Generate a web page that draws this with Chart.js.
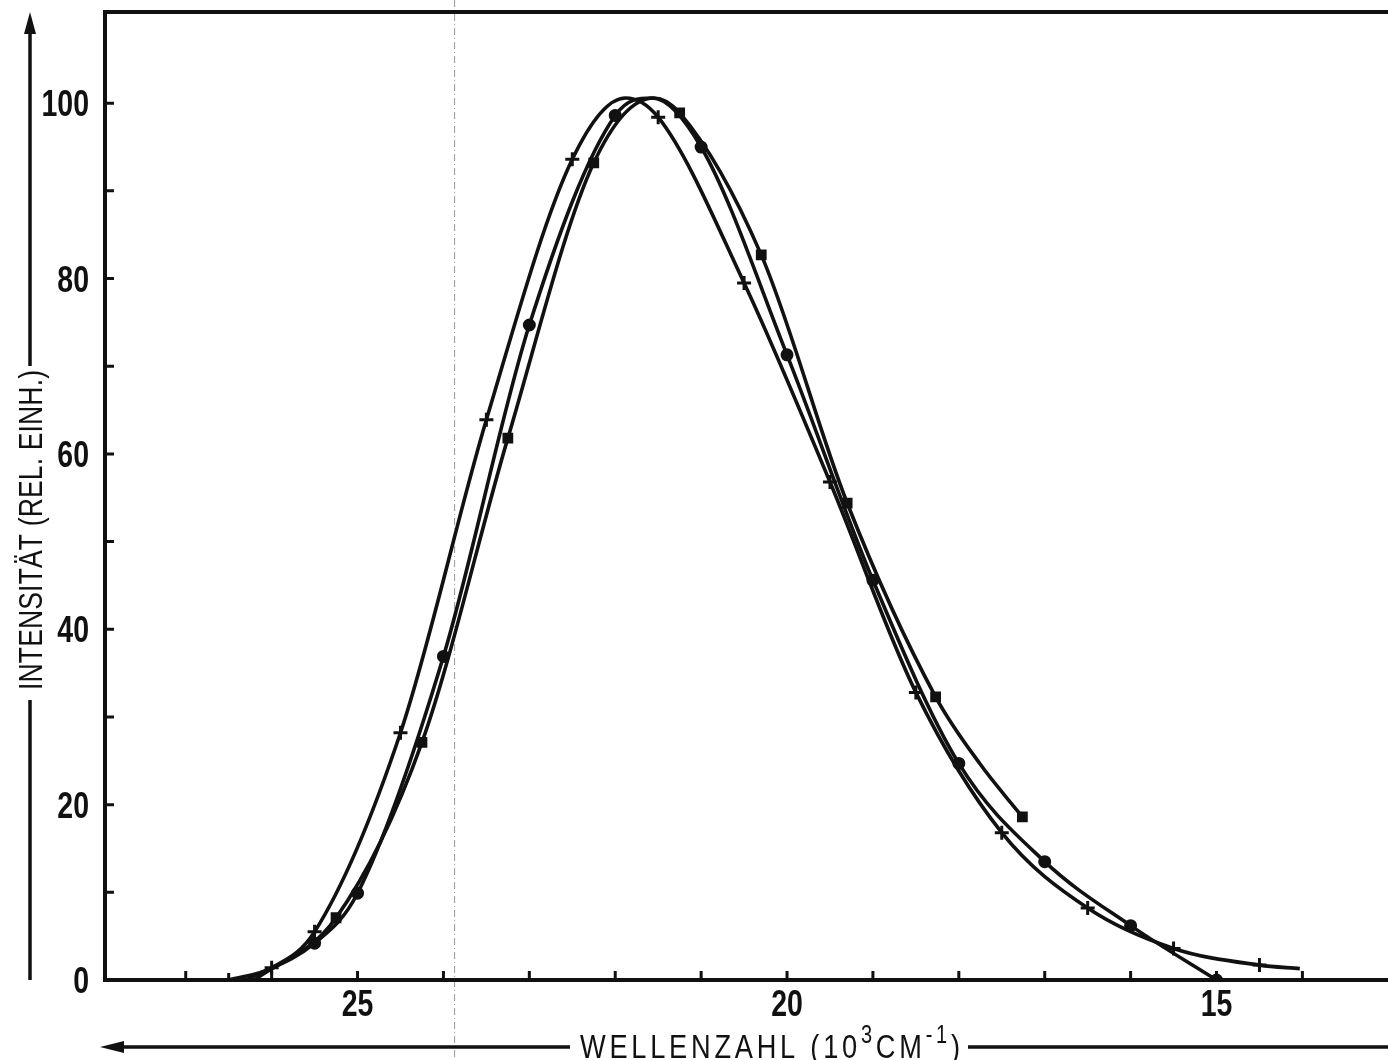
<!DOCTYPE html>
<html>
<head>
<meta charset="utf-8">
<script src="https://cdn.jsdelivr.net/npm/chart.js@4/dist/chart.umd.min.js"></script>
<style>
  html, body { margin: 0; background: #fff; }
  canvas { display: block; }
</style>
</head>
<body>
<canvas id="spectrum" width="1388" height="1060" style="width:1388px;height:1060px"></canvas>
<script>
// Values: x = Wellenzahl (10^3 cm^-1), y = Intensität (rel.)
// Series 1, "+" markers
const crossX = [26.5, 26.0, 25.5, 24.5, 23.5, 22.5, 21.5, 20.5, 19.5, 18.5, 17.5, 16.5, 15.5, 14.5];
const crossY = [0, 1.4, 5.5, 28.2, 63.9, 93.6, 98.4, 79.5, 56.8, 32.8, 16.8, 8.2, 3.6, 1.7];
// extra points on the drawn curve (no marker): peak and right end
const crossCurveX = [21.88, 14.03];
const crossCurveY = [100.6, 1.3];

// Series 2, filled circles
const circleX = [25.5, 25.0, 24.0, 23.0, 22.0, 21.0, 20.0, 19.0, 18.0, 17.0, 16.0, 15.0];
const circleY = [4.2, 9.9, 36.9, 74.7, 98.6, 95.0, 71.3, 45.6, 24.7, 13.5, 6.2, 0];
const circleCurveX = [26.3, 21.57];
const circleCurveY = [0, 100.6];

// Series 3, squares
const squareX = [25.25, 24.25, 23.25, 22.25, 21.25, 20.3, 19.3, 18.27, 17.26];
const squareY = [7.1, 27.1, 61.8, 93.2, 98.9, 82.7, 54.4, 32.3, 18.6];
const squareCurveX = [26.2, 21.55, 17.75];
const squareCurveY = [0, 100.6, 24.6];

// axis ticks
const xTickLabels = [25, 20, 15];
const xMinorTicks = [14, 15, 16, 17, 18, 19, 20, 21, 22, 23, 24, 25, 26, 27];
const yTickLabels = [0, 20, 40, 60, 80, 100];
const yMinorTicks = [10, 20, 30, 40, 50, 60, 70, 80, 90, 100];
const xRange = [13.12, 27.94];
const yRange = [0, 110.4];

const FONT = '"Liberation Sans", Arial, sans-serif';
const INK = "#111";

function points(xs, ys) {
  return xs.map((x, i) => ({ x: x, y: ys[i] }));
}

// curve = markers + the extra read-off points, sorted left to right (x is reversed)
function curve(xs, ys, ex, ey) {
  return points(xs, ys).concat(points(ex, ey)).sort((a, b) => b.x - a.x);
}

function lineSet(data) {
  return {
    type: "line",
    data: data,
    borderColor: INK,
    borderWidth: 3.6,
    pointRadius: 0,
    fill: false,
    cubicInterpolationMode: "monotone"
  };
}

function markerSet(data, style, radius) {
  return {
    type: "scatter",
    data: data,
    pointStyle: style,
    pointRadius: radius,
    pointBorderWidth: 3,
    pointBorderColor: INK,
    pointBackgroundColor: INK,
    showLine: false
  };
}

// condensed text, anchored by align at (x, y baseline)
function narrowText(ctx, text, x, y, font, squeeze, align) {
  ctx.save();
  ctx.font = font;
  const w = ctx.measureText(text).width * squeeze;
  let left = x;
  if (align === "right") left = x - w;
  if (align === "center") left = x - w / 2;
  ctx.translate(left, y);
  ctx.scale(squeeze, 1);
  ctx.textAlign = "left";
  ctx.textBaseline = "alphabetic";
  ctx.fillText(text, 0, 0);
  ctx.restore();
}

// text with letter spacing stretched to a given width
function fitText(ctx, parts, x, y, width, squeeze) {
  ctx.save();
  ctx.translate(x, y);
  ctx.scale(squeeze, 1);
  const target = width / squeeze;
  let natural = 0, count = 0;
  parts.forEach(p => {
    ctx.font = p.font;
    natural += ctx.measureText(p.text).width;
    count += p.text.length;
  });
  const gap = (target - natural) / (count - 1);
  let cx = 0;
  ctx.textBaseline = "alphabetic";
  parts.forEach(p => {
    ctx.font = p.font;
    for (const ch of p.text) {
      ctx.fillText(ch, cx, -(p.rise || 0));
      cx += ctx.measureText(ch).width + gap;
    }
  });
  ctx.restore();
}

const decorPlugin = {
  id: "decor",
  beforeDraw(chart) {
    const ctx = chart.ctx;
    ctx.save();
    ctx.fillStyle = "#fff";
    ctx.fillRect(0, 0, chart.width, chart.height);
    // faint dash-dot fold line on the scan
    const fx = chart.scales.x.getPixelForValue(23.87);
    ctx.strokeStyle = "#999";
    ctx.lineWidth = 1;
    ctx.setLineDash([7, 3, 1, 3]);
    ctx.beginPath();
    ctx.moveTo(fx, 0);
    ctx.lineTo(fx, chart.height);
    ctx.stroke();
    ctx.restore();
  },
  afterDraw(chart) {
    const ctx = chart.ctx;
    const a = chart.chartArea;
    const xs = chart.scales.x, ys = chart.scales.y;
    ctx.save();
    ctx.strokeStyle = INK;
    ctx.fillStyle = INK;
    ctx.setLineDash([]);

    // frame: left, top, bottom (right side runs off the page)
    ctx.lineWidth = 4;
    ctx.beginPath();
    ctx.moveTo(chart.width, a.top);
    ctx.lineTo(a.left, a.top);
    ctx.lineTo(a.left, a.bottom);
    ctx.lineTo(chart.width, a.bottom);
    ctx.stroke();

    // inward ticks
    ctx.lineWidth = 3;
    ctx.beginPath();
    yMinorTicks.forEach(v => {
      const py = ys.getPixelForValue(v);
      ctx.moveTo(a.left, py);
      ctx.lineTo(a.left + 9, py);
    });
    xMinorTicks.forEach(v => {
      const px = xs.getPixelForValue(v);
      ctx.moveTo(px, a.bottom);
      ctx.lineTo(px, a.bottom - 9);
    });
    ctx.stroke();

    // tick labels
    const tickFont = "bold 37px " + FONT;
    yTickLabels.forEach(v => {
      narrowText(ctx, String(v), a.left - 16, ys.getPixelForValue(v) + 13, tickFont, 0.77, "right");
    });
    xTickLabels.forEach(v => {
      narrowText(ctx, String(v), xs.getPixelForValue(v), a.bottom + 36, tickFont, 0.77, "center");
    });

    // y title with arrow
    const ax = 30;
    ctx.lineWidth = 3.5;
    ctx.beginPath();
    ctx.moveTo(ax, a.bottom);
    ctx.lineTo(ax, 700);
    ctx.moveTo(ax, 366);
    ctx.lineTo(ax, 30);
    ctx.stroke();
    ctx.beginPath();
    ctx.moveTo(ax, 12);
    ctx.lineTo(ax - 6, 34);
    ctx.lineTo(ax + 6, 34);
    ctx.closePath();
    ctx.fill();

    ctx.save();
    ctx.translate(ax + 12, 690);
    ctx.rotate(-Math.PI / 2);
    fitText(ctx, [{ text: "INTENSITÄT (REL. EINH.)", font: "500 34px " + FONT }], 0, 0, 320, 0.78);
    ctx.restore();

    // x title with arrow
    const ay = 1047;
    ctx.beginPath();
    ctx.moveTo(118, ay);
    ctx.lineTo(570, ay);
    ctx.moveTo(968, ay);
    ctx.lineTo(chart.width, ay);
    ctx.stroke();
    ctx.beginPath();
    ctx.moveTo(100, ay);
    ctx.lineTo(124, ay - 6);
    ctx.lineTo(124, ay + 6);
    ctx.closePath();
    ctx.fill();

    fitText(ctx, [
      { text: "WELLENZAHL (10", font: "34px " + FONT },
      { text: "3", font: "25px " + FONT, rise: 15 },
      { text: "CM", font: "34px " + FONT },
      { text: "-1", font: "25px " + FONT, rise: 15 },
      { text: ")", font: "34px " + FONT }
    ], 580, 1058, 380, 0.8);

    ctx.restore();
  }
};

new Chart(document.getElementById("spectrum"), {
  data: {
    datasets: [
      lineSet(curve(crossX, crossY, crossCurveX, crossCurveY)),
      lineSet(curve(circleX, circleY, circleCurveX, circleCurveY)),
      lineSet(curve(squareX, squareY, squareCurveX, squareCurveY)),
      markerSet(points(crossX, crossY), "cross", 7),
      markerSet(points(circleX, circleY), "circle", 5),
      markerSet(points(squareX, squareY), "rect", 5.5)
    ]
  },
  options: {
    responsive: false,
    animation: false,
    devicePixelRatio: 1,
    layout: { padding: { left: 0, right: 0, top: 12, bottom: 0 } },
    plugins: {
      legend: { display: false },
      tooltip: { enabled: false }
    },
    scales: {
      x: {
        type: "linear",
        reverse: true,
        min: xRange[0],
        max: xRange[1],
        afterBuildTicks: s => { s.ticks = xTickLabels.map(v => ({ value: v })); },
        afterFit: s => { s.height = 80; s.paddingLeft = 0; s.paddingRight = 0; },
        grid: { display: false, drawTicks: false },
        border: { display: false },
        ticks: { display: false }
      },
      y: {
        type: "linear",
        min: yRange[0],
        max: yRange[1],
        afterBuildTicks: s => { s.ticks = yTickLabels.map(v => ({ value: v })); },
        afterFit: s => { s.width = 105; s.paddingTop = 0; s.paddingBottom = 0; },
        grid: { display: false, drawTicks: false },
        border: { display: false },
        ticks: { display: false }
      }
    }
  },
  plugins: [decorPlugin]
});
</script>
</body>
</html>
